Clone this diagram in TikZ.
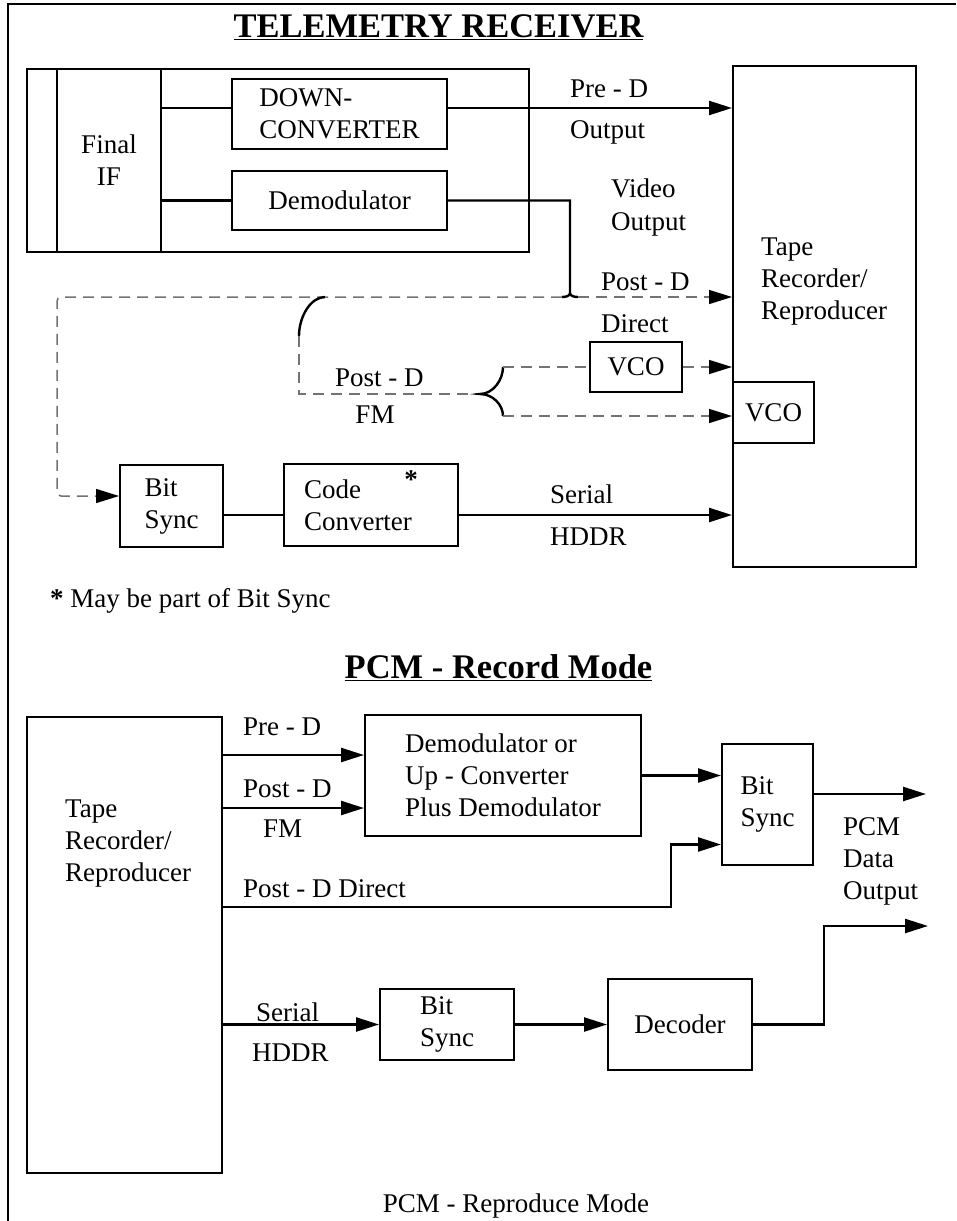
\documentclass[tikz,border=0pt]{standalone}
\usepackage{fontspec}
\setmainfont{Liberation Serif}
\usepackage{tikz}
\usetikzlibrary{arrows.meta, positioning, calc}
\definecolor{dashgray}{RGB}{115,115,115}
\newcommand{\lab}{\fontsize{27}{32}\selectfont}
\newcommand{\ttl}{\fontsize{34.5}{40}\selectfont\bfseries}

\tikzset{
  blk/.style={draw, line width=2pt, inner sep=0pt, align=left, font=\lab},
  lbl/.style={inner sep=0pt, align=left, font=\lab},
  wire/.style={line width=2.4pt},
  sig/.style={wire, -{Triangle[length=23pt,width=14pt]}},
  dwire/.style={line width=1.5pt, dashgray, dash pattern=on 11pt off 7pt},
  dsig/.style={dwire, -{Triangle[length=23pt,width=14pt,color=black]}}
}

\begin{document}
\begin{tikzpicture}[x=1pt, y=-1pt]
  \useasboundingbox (0,0) rectangle (956,1221);
  \draw[line width=2.8pt] (956,4) -- (8,4) -- (8,1221);

  % telemetry receiver
  \node[anchor=base, font=\ttl] (title1) at (438.5,37) {\underline{TELEMETRY RECEIVER}};
  \node[blk, minimum width=502, minimum height=183] (rx) at (278,160.5) {};
  \node[blk, minimum width=104, minimum height=183, align=center] (fif) at (109,160.5) {Final\\IF};
  \node[blk, minimum width=215, minimum height=70] (dc) at (339.5,114) {DOWN-\\CONVERTER};
  \node[blk, minimum width=215, minimum height=59] (dm) at (339.5,200.5) {Demodulator};
  \node[blk, minimum width=183, minimum height=501] (tr) at (824.5,316.5) {};
  \node[lbl, anchor=west] (trtxt) at (761,282) {Tape\\Recorder/\\Reproducer};
  \node[blk, minimum width=81, minimum height=61, align=center] (vcob) at (773.5,412.5) {VCO};
  \node[blk, minimum width=92, minimum height=50, align=center] (vcoa) at (636,367) {VCO};
  \node[blk, minimum width=103, minimum height=82] (bs) at (171.5,506) {Bit\\Sync};
  \node[blk, minimum width=174, minimum height=82, text width=134] (cc) at (371,505) {Code\\Converter};
  \node[font=\lab\bfseries, inner sep=0pt] (ast) at (411,480) {*};

  \draw[wire] ([yshift=6pt]dc.west -| fif.east) -- ([yshift=6pt]dc.west);
  \draw[wire] (dm.west -| fif.east) -- (dm.west);
  \draw[sig] ([yshift=6pt]dc.east) -- ([yshift=6pt]dc.east -| tr.west);

  % video output onto the dashed bus
  \coordinate (vj) at (570,297);
  \draw[wire] (dm.east) -| (570,293) .. controls (570,296) and (566,297) .. (562,297);
  \draw[wire] (570,293) .. controls (570,296) and (574,297) .. (578,297);
  \draw[dsig] (578,297) -- (vj -| tr.west);
  \draw[dsig, rounded corners=4pt] (562,297) -- (57,297) |- ([yshift=10pt]bs.west);

  % post-D FM branch
  \coordinate (fmtip) at (480,394);
  \draw[wire] (325,297) .. controls (311,297) and (299,316) .. (299,336);
  \draw[dwire] (299,336) |- (fmtip);
  \draw[wire] (503,367) .. controls (503,380) and (493,394) .. (fmtip)
              .. controls (493,394) and (503,405) .. (503,416);
  \draw[dwire] (503,367) -- (vcoa.west);
  \draw[dsig] (vcoa.east) -- (vcoa.east -| tr.west);
  \draw[dsig] (503,416) -- (503,416 -| vcob.west);

  \draw[wire] ([yshift=-9pt]bs.east) -- ([yshift=-9pt]bs.east -| cc.west);
  \draw[sig] ([yshift=-10pt]cc.east) -- ([yshift=-10pt]cc.east -| tr.west);

  \node[lbl, anchor=base west] (lpre) at (570,97) {Pre - D};
  \node[lbl, anchor=base west] (lout) at (570,138) {Output};
  \node[lbl, anchor=base west] (lvid) at (611,197) {Video};
  \node[lbl, anchor=base west] (lvout) at (611,230) {Output};
  \node[lbl, anchor=base west] (lpdd) at (601,290) {Post - D};
  \node[lbl, anchor=base west] (ldir) at (601,332) {Direct};
  \node[lbl, anchor=base west] (lpdf) at (335,386) {Post - D};
  \node[lbl, anchor=base] (lfm) at (375,423) {FM};
  \node[lbl, anchor=base west] (lser) at (550,503) {Serial};
  \node[lbl, anchor=base west] (lhddr) at (550,545) {HDDR};
  \node[lbl, anchor=base west] (note) at (50,607) {{\bfseries *} May be part of Bit Sync};

  % record / reproduce
  \node[anchor=base, font=\ttl] (title2) at (498.5,678) {\underline{PCM - Record Mode}};
  \node[blk, minimum width=195, minimum height=456] (tb) at (124.5,945) {};
  \node[lbl, anchor=west] (tbtxt) at (65,844) {Tape\\Recorder/\\Reproducer};
  \node[blk, minimum width=276, minimum height=121] (dmb) at (503,775.5) {Demodulator or\\Up - Converter\\Plus Demodulator};
  \node[blk, minimum width=91, minimum height=121] (bsb) at (767.5,804.5) {Bit\\Sync};
  \node[blk, minimum width=134, minimum height=71] (bsc) at (447,1024.5) {Bit\\Sync};
  \node[blk, minimum width=144, minimum height=91, align=center] (dec) at (680,1024.5) {Decoder};
  \node[lbl, anchor=west] (pcmout) at (843,861) {PCM\\Data\\Output};
  \node[anchor=base, font=\lab] (title3) at (516,1212) {PCM - Reproduce Mode};

  \coordinate (preb) at ([yshift=-41pt]dmb.north west);
  \draw[sig] (preb -| tb.east) -- (preb);
  \coordinate (fmb) at ([yshift=29pt]dmb.south west);
  \draw[sig] (fmb -| tb.east) -- (fmb);
  \draw[sig] (dmb.east) -- (dmb.east -| bsb.west);
  \coordinate (out1) at (926,794);
  \draw[sig] (out1 -| bsb.east) -- (out1);
  \coordinate (dirb) at ([yshift=-40pt]bsb.west);
  \draw[sig] (tb.east |- 0,907) -- (671,907) |- (dirb);
  \draw[sig] (bsc.west -| tb.east) -- (bsc.west);
  \draw[sig] (bsc.east) -- (dec.west);
  \coordinate (out2) at (928,926);
  \draw[sig] (dec.east) -- ++(71,0) |- (out2);

  \node[lbl, anchor=base west] (lpreb) at (243,735) {Pre - D};
  \node[lbl, anchor=base west] (lpdb) at (243,797) {Post - D};
  \node[lbl, anchor=base west] (lfmb) at (263,837) {FM};
  \node[lbl, anchor=base west] (ldirb) at (243,897) {Post - D Direct};
  \node[lbl, anchor=base west] (lserb) at (256,1021) {Serial};
  \node[lbl, anchor=base west] (lhddrb) at (252,1061) {HDDR};
\end{tikzpicture}
\end{document}
